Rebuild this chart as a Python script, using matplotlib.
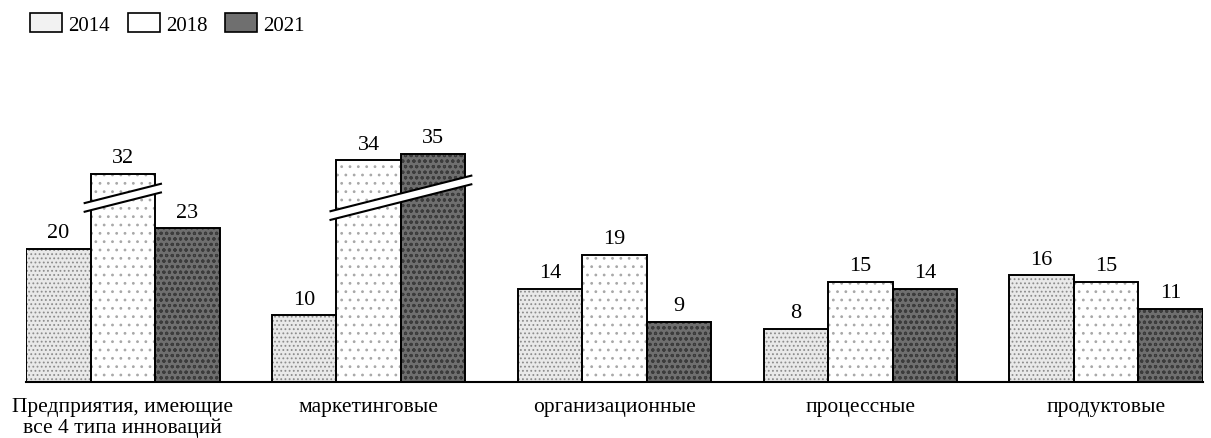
import numpy as np
import matplotlib
matplotlib.use("Agg")
import matplotlib.pyplot as plt
from matplotlib.patches import Patch, Polygon

# ---- data ----
categories = ["Предприятия, имеющие\nвсе 4 типа инноваций", "маркетинговые",
              "организационные", "процессные", "продуктовые"]
years = ["2014", "2018", "2021"]
v2014 = [20, 10, 14, 8, 16]
v2018 = [32, 34, 19, 15, 15]
v2021 = [23, 35, 9, 14, 11]
# bars drawn with a scale break: (category index, series index)
broken = [(0, 1), (1, 1), (1, 2)]

# ---- style ----
face = ["#e9e9e9", "#ffffff", "#6f6f6f"]
legend_face = ["#f2f2f2", "#ffffff", "#6f6f6f"]
hatchc = ["#8c8c8c", "#a8a8a8", "#3c3c3c"]
hatches = ["....", "..", "ooo"]
break_level = 27.6      # value where the break is drawn (centre)
break_gap = 1.3         # white gap height (value units)
break_cut = 0.8         # part of value removed by the break
break_slope = 9.3       # value units per x unit
break_ext = 0.028       # x extension beyond the bars

plt.rcParams["font.family"] = ["Liberation Serif", "DejaVu Serif"]
plt.rcParams["hatch.linewidth"] = 0.8

W, H = 1211, 439
fig = plt.figure(figsize=(W / 100, H / 100), dpi=100)
ax = fig.add_axes([26 / W, 56 / H, 1177 / W, 267 / H])

x = np.arange(len(categories))
bw = 0.2625
series = [v2014, v2018, v2021]
for si, vals in enumerate(series):
    disp = [v - break_cut if (ci, si) in broken else v for ci, v in enumerate(vals)]
    pos = x + (si - 1) * bw
    ax.bar(pos, disp, bw, color=face[si], hatch=hatches[si],
           edgecolor=hatchc[si], linewidth=0, zorder=2)
    ax.bar(pos, disp, bw, fill=False, edgecolor="black", linewidth=1.4, zorder=3)
    for p, d, v in zip(pos, disp, vals):
        ax.text(p, d + 1.0, str(v), ha="center", va="bottom", fontsize=16, zorder=5)

# break marks
groups = sorted(set(ci for ci, _ in broken))
for ci in groups:
    sis = [si for c, si in broken if c == ci]
    x0 = x[ci] + (min(sis) - 1) * bw - bw / 2 - break_ext
    x1 = x[ci] + (max(sis) - 1) * bw + bw / 2 + break_ext
    xc = (x0 + x1) / 2
    def yl(xx, off):
        return break_level + off + break_slope * (xx - xc)
    lo, hi = -break_gap / 2, break_gap / 2
    poly = Polygon([(x0, yl(x0, lo)), (x1, yl(x1, lo)), (x1, yl(x1, hi)), (x0, yl(x0, hi))],
                   closed=True, facecolor="white", edgecolor="none", zorder=4)
    ax.add_patch(poly)
    for off in (lo, hi):
        ax.plot([x0, x1], [yl(x0, off), yl(x1, off)], color="black", lw=1.5, zorder=4,
                solid_capstyle="butt")

ax.set_xlim(x[0] - 1.5 * bw, x[-1] + 1.5 * bw)
ax.set_ylim(0, 40)
for s in ["top", "right", "left"]:
    ax.spines[s].set_visible(False)
ax.spines["bottom"].set_linewidth(1.5)
ax.spines["bottom"].set_zorder(6)
ax.set_yticks([])
ax.set_xticks(x)
ax.set_xticklabels(categories, fontsize=15.5, linespacing=1.05)
ax.tick_params(axis="x", length=0, pad=11)

handles = [Patch(facecolor=legend_face[i], edgecolor="black", linewidth=1.2) for i in range(3)]
fig.legend(handles, years, loc="upper left", bbox_to_anchor=(30 / W, 1 - 14 / H),
           ncol=3, frameon=False, fontsize=15, handlelength=1.54, handleheight=1.05,
           handletextpad=0.3, columnspacing=0.85, borderaxespad=0, borderpad=0)

fig.savefig("out.png", dpi=100)
